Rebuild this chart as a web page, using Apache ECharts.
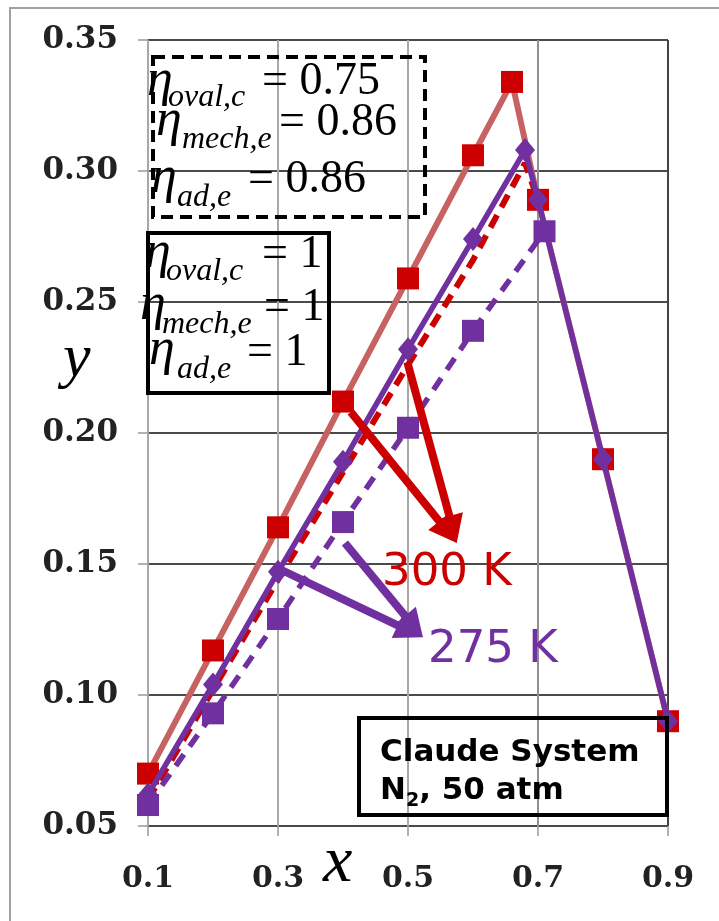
<!DOCTYPE html>
<html>
<head>
<meta charset="utf-8">
<script src="https://cdn.jsdelivr.net/npm/echarts@6/dist/echarts.min.js"></script>
<style>
html,body{margin:0;padding:0;background:#fff;}
#chart{width:719px;height:921px;}
</style>
</head>
<body>
<div id="chart"></div>
<script>
// x ticks and y ticks
const xTicks = [0.1, 0.3, 0.5, 0.7, 0.9];
const yTicks = [0.05, 0.10, 0.15, 0.20, 0.25, 0.30, 0.35];

// 300 K, ideal efficiencies (solid red, squares)
const x300ideal = [0.1, 0.2, 0.3, 0.4, 0.5, 0.6, 0.66, 0.7, 0.8, 0.9];
const y300ideal = [0.070, 0.117, 0.164, 0.212, 0.259, 0.306, 0.334, 0.289, 0.190, 0.090];
// 300 K, real efficiencies (dashed red)
const x300real = [0.1, 0.2, 0.3, 0.4, 0.5, 0.6, 0.68, 0.7];
const y300real = [0.060, 0.102, 0.144, 0.185, 0.226, 0.266, 0.303, 0.289];
// 275 K, ideal efficiencies (solid purple, diamonds)
const x275ideal = [0.1, 0.2, 0.3, 0.4, 0.5, 0.6, 0.68, 0.7, 0.8, 0.9];
const y275ideal = [0.062, 0.104, 0.147, 0.189, 0.232, 0.274, 0.308, 0.289, 0.190, 0.090];
// 275 K, real efficiencies (dashed purple, squares)
const x275real = [0.1, 0.2, 0.3, 0.4, 0.5, 0.6, 0.71];
const y275real = [0.058, 0.093, 0.129, 0.166, 0.202, 0.239, 0.277];

// annotation arrows (data coordinates: start, tip)
const arrows300 = [[[0.412, 0.208], [0.575, 0.158]], [[0.499, 0.227], [0.575, 0.158]]];
const arrows275 = [[[0.303, 0.148], [0.523, 0.122]], [[0.403, 0.158], [0.523, 0.122]]];

const RED = '#cc0000';
const RED_LINE = '#c66262';
const PURPLE = '#7030a0';

function pairs(xs, ys) { return xs.map((x, i) => [x, ys[i]]); }

const SERIF = '"Liberation Serif", "Times New Roman", serif';
function etaLine(xe, ye, sub, xs, ys, val, xv, yv) {
  return [
    {type: 'text', z: 20, x: xe, y: ye, style: {text: 'η', font: 'italic 52px ' + SERIF, fill: '#000', verticalAlign: 'middle'}},
    {type: 'text', z: 20, x: xs, y: ys, style: {text: sub, font: 'italic 32px ' + SERIF, fill: '#000', verticalAlign: 'middle'}},
    {type: 'text', z: 20, x: xv, y: yv, style: {text: val, font: '46px ' + SERIF, fill: '#000', verticalAlign: 'middle'}}
  ];
}

const baseGraphic = [
  {type: 'rect', shape: {x: 10, y: 8, width: 730, height: 940}, style: {fill: 'none', stroke: '#a0a0a0', lineWidth: 2}, z: 0, silent: true},
  {type: 'rect', shape: {x: 153, y: 57, width: 272, height: 160}, style: {fill: 'none', stroke: '#000', lineWidth: 4, lineDash: [12, 7]}, z: 10},
  ...etaLine(147, 81, 'oval,c', 168, 97.5, '= 0.75', 262, 82),
  ...etaLine(156, 121, 'mech,e', 182, 139.5, '= 0.86', 279, 123),
  ...etaLine(151, 178, 'ad,e', 177, 197.5, '= 0.86', 248, 180),
  {type: 'rect', shape: {x: 148, y: 233, width: 181, height: 160}, style: {fill: 'none', stroke: '#000', lineWidth: 4}, z: 10},
  ...etaLine(145, 253, 'oval,c', 166, 271.5, '= 1', 262, 255),
  ...etaLine(140, 305, 'mech,e', 162, 324.5, '= 1', 264, 308),
  ...etaLine(149, 350, 'ad,e', 177, 369.5, '= 1', 247, 353),
  {type: 'text', x: 63, y: 360, style: {text: 'y', font: 'italic 62px ' + SERIF, fill: '#000', verticalAlign: 'middle'}, z: 20},
  {type: 'text', x: 323, y: 864, style: {text: 'x', font: 'italic 66px ' + SERIF, fill: '#000', verticalAlign: 'middle'}, z: 20},
  {type: 'text', x: 382, y: 573, style: {text: '300 K', font: '45px "DejaVu Sans", sans-serif', fill: RED, verticalAlign: 'middle'}, z: 20},
  {type: 'text', x: 428, y: 650, style: {text: '275 K', font: '45px "DejaVu Sans", sans-serif', fill: PURPLE, verticalAlign: 'middle'}, z: 20},
  {type: 'rect', shape: {x: 359, y: 718, width: 308, height: 97}, style: {fill: 'none', stroke: '#000', lineWidth: 4}, z: 10},
  {type: 'text', x: 380, y: 753, style: {text: 'Claude System', font: 'bold 31px "DejaVu Sans", sans-serif', fill: '#000', verticalAlign: 'middle'}, z: 20},
  {type: 'text', x: 380, y: 793, style: {
    text: '{n|N}{s|2}{n|, 50 atm}', verticalAlign: 'middle',
    rich: {
      n: {fontFamily: '"DejaVu Sans", sans-serif', fontWeight: 'bold', fontSize: 31, lineHeight: 36, verticalAlign: 'top', fill: '#000'},
      s: {fontFamily: '"DejaVu Sans", sans-serif', fontWeight: 'bold', fontSize: 19, lineHeight: 36, verticalAlign: 'bottom', fill: '#000'}
    }
  }, z: 20}
];

const chart = echarts.init(document.getElementById('chart'));
const option = {
  animation: false,
  backgroundColor: '#fff',
  grid: {left: 148, right: 51, top: 40, bottom: 95},
  xAxis: {
    type: 'value', min: xTicks[0], max: xTicks[xTicks.length - 1], interval: 0.2,
    axisLine: {show: false},
    axisTick: {show: true, length: 10, lineStyle: {color: '#999', width: 1.5}},
    axisLabel: {margin: 38, formatter: v => v.toFixed(1), color: '#222',
      fontFamily: '"DejaVu Serif", serif', fontWeight: 'bold', fontSize: 30},
    splitLine: {show: true, lineStyle: {color: ['#a8a8a8', '#a8a8a8', '#a8a8a8', '#909090', '#444'], width: 2}}
  },
  yAxis: {
    type: 'value', min: yTicks[0], max: yTicks[yTicks.length - 1], interval: 0.05,
    axisLine: {show: false},
    axisTick: {show: true, length: 10, lineStyle: {color: '#999', width: 1.5}},
    axisLabel: {margin: 30, formatter: v => v.toFixed(2), color: '#222',
      fontFamily: '"DejaVu Serif", serif', fontWeight: 'bold', fontSize: 31},
    splitLine: {show: true, lineStyle: {color: '#4a4a4a', width: 2}}
  },
  series: [
    {
      type: 'line', name: '300 K ideal', data: pairs(x300ideal, y300ideal),
      lineStyle: {color: RED_LINE, width: 6}, itemStyle: {color: RED},
      symbol: 'rect', symbolSize: 22, showSymbol: true, z: 2
    },
    {
      type: 'line', name: '300 K real', data: pairs(x300real, y300real),
      lineStyle: {color: RED, width: 6, type: [14, 9]}, itemStyle: {color: RED},
      symbol: 'none', z: 3
    },
    {
      type: 'line', name: '275 K real', data: pairs(x275real, y275real),
      lineStyle: {color: PURPLE, width: 5.5, type: [14, 10]}, itemStyle: {color: PURPLE},
      symbol: 'rect', symbolSize: 22, z: 4
    },
    {
      type: 'line', name: '275 K ideal', data: pairs(x275ideal, y275ideal),
      lineStyle: {color: PURPLE, width: 5.5}, itemStyle: {color: PURPLE},
      symbol: 'diamond', symbolSize: [20, 24], z: 5
    }
  ],
  graphic: baseGraphic
};
chart.setOption(option);

// arrows: positions converted from data coordinates through the chart's own scales
function arrowGraphic(list, color) {
  const out = [];
  const L = 28, W = 14;
  list.forEach(a => {
    const s = chart.convertToPixel({gridIndex: 0}, a[0]);
    const t = chart.convertToPixel({gridIndex: 0}, a[1]);
    const dx = t[0] - s[0], dy = t[1] - s[1];
    const len = Math.sqrt(dx * dx + dy * dy);
    const ux = dx / len, uy = dy / len;
    const bx = t[0] - ux * L, by = t[1] - uy * L;
    out.push({type: 'line', z: 15, silent: true,
      shape: {x1: s[0], y1: s[1], x2: bx + ux * 3, y2: by + uy * 3},
      style: {stroke: color, lineWidth: 8}});
    out.push({type: 'polygon', z: 15, silent: true,
      shape: {points: [[t[0], t[1]], [bx - uy * W, by + ux * W], [bx + uy * W, by - ux * W]]},
      style: {fill: color}});
  });
  return out;
}
chart.setOption({graphic: baseGraphic.concat(arrowGraphic(arrows300, RED), arrowGraphic(arrows275, PURPLE))});
</script>
</body>
</html>
